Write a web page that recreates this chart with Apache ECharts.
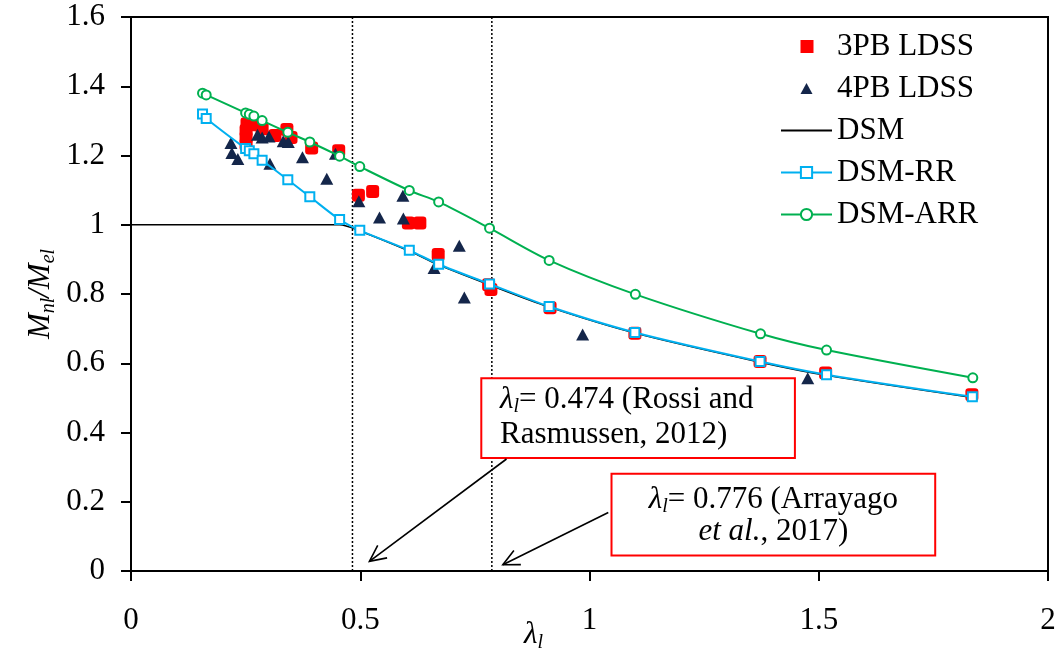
<!DOCTYPE html>
<html><head><meta charset="utf-8">
<script src="https://cdn.jsdelivr.net/npm/echarts@6/dist/echarts.min.js"></script>
<style>html,body{margin:0;padding:0;background:#fff}#c{width:1063px;height:654px}</style>
</head><body><div id="c"></div>
<script>
// ---- data ----
const xTicks = [0, 0.5, 1, 1.5, 2];
const yTicks = [0, 0.2, 0.4, 0.6, 0.8, 1, 1.2, 1.4, 1.6];

const pb3X = [0.253,0.251,0.251,0.251,0.270,0.286,0.314,0.340,0.349,0.394,0.453,0.496,0.527,0.605,0.630,0.670,0.780,0.785,0.914,1.099,1.372,1.515,1.834];
const pb3Y = [1.292,1.272,1.252,1.232,1.289,1.277,1.258,1.275,1.252,1.222,1.214,1.085,1.096,1.005,1.005,0.914,0.827,0.813,0.760,0.687,0.605,0.572,0.509];

const pb4X = [0.218,0.220,0.233,0.276,0.286,0.301,0.332,0.343,0.374,0.303,0.427,0.446,0.497,0.542,0.593,0.594,0.716,0.661,0.727,0.985,1.476];
const pb4Y = [1.236,1.207,1.190,1.260,1.252,1.255,1.241,1.239,1.195,1.176,1.133,1.205,1.068,1.021,1.084,1.018,0.939,0.875,0.790,0.683,0.557];

const dsmX = [0, 0.455, 0.499, 0.607, 0.671, 0.782, 0.912, 1.099, 1.372, 1.517, 1.835];
const dsmY = [1, 1, 0.982, 0.924, 0.884, 0.826, 0.762, 0.687, 0.603, 0.565, 0.501];

const rrX = [0.156,0.164,0.250,0.258,0.268,0.286,0.342,0.390,0.455,0.499,0.607,0.671,0.782,0.912,1.099,1.372,1.517,1.835];
const rrY = [1.320,1.307,1.220,1.214,1.205,1.186,1.130,1.081,1.015,0.984,0.926,0.886,0.829,0.764,0.689,0.605,0.567,0.503];

const arrX = [0.156,0.164,0.250,0.258,0.268,0.286,0.342,0.390,0.455,0.499,0.607,0.671,0.782,0.912,1.100,1.373,1.517,1.836];
const arrY = [1.380,1.375,1.323,1.319,1.314,1.301,1.267,1.239,1.198,1.168,1.099,1.066,0.990,0.897,0.799,0.685,0.638,0.558];

const limitX = [0.483, 0.787];
const seriesNames = ['3PB LDSS', '4PB LDSS', 'DSM', 'DSM-RR', 'DSM-ARR'];

// annotation anchors (data coordinates)
const boxes = [
  {x0: 0.764, x1: 1.448, y0: 0.557, y1: 0.326},
  {x0: 1.048, x1: 1.754, y0: 0.281, y1: 0.045}
];
const arrows = [
  {from: [0.819, 0.3235], to: [0.520, 0.028]},
  {from: [1.041, 0.169], to: [0.811, 0.018]}
];
const texts = [
  {pos: [0.805, 0.495], align: 'left',   text: '{it|λ}{sub|l}{n|= 0.474 (Rossi and}'},
  {pos: [0.805, 0.392], align: 'left',   text: '{n|Rasmussen, 2012)}'},
  {pos: [1.401, 0.206], align: 'center', text: '{it|λ}{sub|l}{n|= 0.776 (Arrayago}'},
  {pos: [1.401, 0.112], align: 'center', text: '{it|et al.}{n|, 2017)}'}
];

const zip = (a, b) => a.map((v, i) => [v, b[i]]);
const SERIF = '"Liberation Serif", "Times New Roman", serif';
const annRich = {
  n:   {fontFamily: SERIF, fontSize: 31, color: '#000'},
  it:  {fontFamily: SERIF, fontSize: 31, fontStyle: 'italic', color: '#000'},
  sub: {fontFamily: SERIF, fontSize: 20, fontStyle: 'italic', color: '#000', verticalAlign: 'top', padding: [15, 0, 0, 0]}
};

const chart = echarts.init(document.getElementById('c'), null, {renderer: 'canvas'});

const option = {
  animation: false,
  backgroundColor: '#fff',
  grid: {left: 131, right: 15, top: 17, bottom: 83, show: true, borderColor: '#000', borderWidth: 2,
         backgroundColor: 'transparent', containLabel: false, outerBoundsMode: 'none'},
  legend: {
    data: [
      {name: seriesNames[0], icon: 'path://M0,0M51,14M19.5,0.5L32.5,0.5L32.5,13.5L19.5,13.5Z'},
      {name: seriesNames[1], icon: 'path://M0,0M51,14M25.5,1.5L31.5,12.5L19.5,12.5Z'},
      {name: seriesNames[2], itemStyle: {color: 'transparent', borderWidth: 0}},
      {name: seriesNames[3]},
      {name: seriesNames[4]}
    ],
    orient: 'vertical', left: 775, top: 24,
    itemWidth: 51, itemHeight: 14, itemGap: 7,
    textStyle: {fontFamily: SERIF, fontSize: 31, color: '#000', lineHeight: 35}
  },
  xAxis: {
    type: 'value', min: xTicks[0], max: xTicks[xTicks.length - 1], interval: 0.5,
    axisLine: {show: true, lineStyle: {color: '#000', width: 2}},
    axisTick: {show: true, inside: false, length: 10, lineStyle: {color: '#000', width: 2}},
    axisLabel: {margin: 34, fontFamily: SERIF, fontSize: 31, color: '#000'},
    splitLine: {show: false},
    name: '{it|λ}{sub|l}', nameLocation: 'middle', nameGap: 46, nameMoveOverlap: false,
    nameTextStyle: {padding: [0, 112, 0, 0], rich: {
      it: {fontFamily: SERIF, fontSize: 31, fontStyle: 'italic', color: '#000'},
      sub: {fontFamily: SERIF, fontSize: 20, fontStyle: 'italic', color: '#000', verticalAlign: 'top', padding: [16, 0, 0, 0]}
    }}
  },
  yAxis: {
    type: 'value', min: yTicks[0], max: yTicks[yTicks.length - 1], interval: 0.2,
    axisLine: {show: true, lineStyle: {color: '#000', width: 2}},
    axisTick: {show: true, inside: false, length: 10, lineStyle: {color: '#000', width: 2}},
    axisLabel: {margin: 26, fontFamily: SERIF, fontSize: 31, color: '#000'},
    splitLine: {show: false},
    name: '{it|M}{sub|nl}{it|/M}{sub|el}', nameLocation: 'middle', nameGap: 72, nameRotate: 90, nameMoveOverlap: false,
    nameTextStyle: {rich: {
      it: {fontFamily: SERIF, fontSize: 31, fontStyle: 'italic', color: '#000'},
      sub: {fontFamily: SERIF, fontSize: 20, fontStyle: 'italic', color: '#000', verticalAlign: 'top', padding: [16, 0, 0, 0]}
    }}
  },
  series: [
    {name: 'limit1', type: 'line', data: [[limitX[0], yTicks[0]], [limitX[0], yTicks[yTicks.length-1]]], symbol: 'none', silent: true,
     lineStyle: {color: '#000', width: 1.5, type: [2, 2]}, z: 1},
    {name: 'limit2', type: 'line', data: [[limitX[1], yTicks[0]], [limitX[1], yTicks[yTicks.length-1]]], symbol: 'none', silent: true,
     lineStyle: {color: '#000', width: 1.5, type: [2, 2]}, z: 1},
    {name: seriesNames[0], type: 'scatter', data: zip(pb3X, pb3Y), symbol: 'roundRect', symbolSize: 13,
     itemStyle: {color: '#ff0000', opacity: 1}, z: 2},
    {name: seriesNames[1], type: 'scatter', data: zip(pb4X, pb4Y), symbol: 'triangle', symbolSize: [13, 12],
     itemStyle: {color: '#14264a', opacity: 1}, z: 2},
    {name: seriesNames[2], type: 'line', data: zip(dsmX, dsmY), symbol: 'none', smooth: 0.3,
     lineStyle: {color: '#000', width: 1.5}, itemStyle: {color: '#000'}, z: 2},
    {name: seriesNames[3], type: 'line', data: zip(rrX, rrY), symbol: 'emptyRect', symbolSize: 9, showAllSymbol: true,
     smooth: 0.3,
     lineStyle: {color: '#00b0f0', width: 2}, itemStyle: {color: '#00b0f0', borderWidth: 1.6}, z: 3},
    {name: seriesNames[4], type: 'line', data: zip(arrX, arrY), symbol: 'emptyCircle', symbolSize: 9, showAllSymbol: true,
     smooth: 0.3,
     lineStyle: {color: '#00b050', width: 2}, itemStyle: {color: '#00b050', borderWidth: 1.6}, z: 3},
    {name: 'annotations', type: 'custom', data: [[0, 0]], silent: true, clip: false, z: 10,
     renderItem: function (params, api) {
       const children = [];
       boxes.forEach(b => {
         const p0 = api.coord([b.x0, b.y0]), p1 = api.coord([b.x1, b.y1]);
         children.push({type: 'rect', shape: {x: p0[0], y: p0[1], width: p1[0] - p0[0], height: p1[1] - p0[1]},
           style: {fill: '#fff', stroke: '#ff0000', lineWidth: 2}});
       });
       arrows.forEach(a => {
         const s = api.coord(a.from), t = api.coord(a.to);
         const ang = Math.atan2(s[1] - t[1], s[0] - t[0]);
         const L = 18, da = 0.45;
         children.push({type: 'line', shape: {x1: s[0], y1: s[1], x2: t[0], y2: t[1]}, style: {stroke: '#000', lineWidth: 1.6}});
         children.push({type: 'polyline', shape: {points: [
           [t[0] + L * Math.cos(ang + da), t[1] + L * Math.sin(ang + da)], t,
           [t[0] + L * Math.cos(ang - da), t[1] + L * Math.sin(ang - da)]]},
           style: {stroke: '#000', lineWidth: 1.6, fill: null}});
       });
       texts.forEach(tx => {
         const p = api.coord(tx.pos);
         children.push({type: 'text', x: p[0], y: p[1],
           style: {text: tx.text, rich: annRich, align: tx.align, verticalAlign: 'middle', fill: '#000'}});
       });
       return {type: 'group', children: children};
     }}
  ]
};
chart.setOption(option);
</script></body></html>
